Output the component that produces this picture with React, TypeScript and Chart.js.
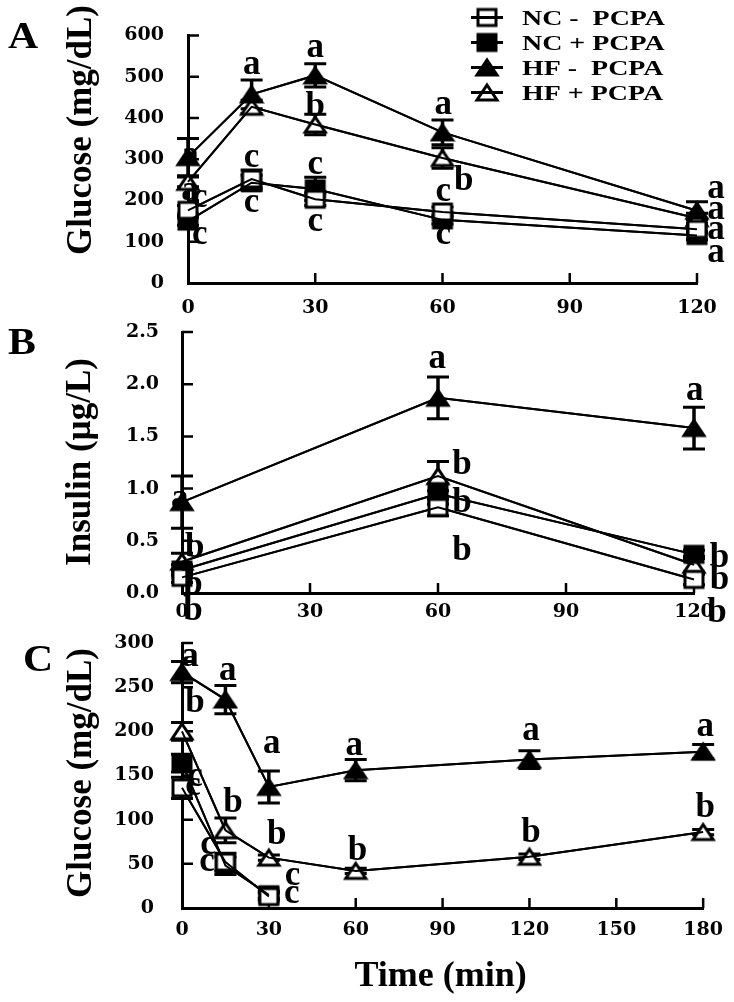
import React, { useEffect, useRef } from 'react';
import { Chart, registerables } from 'chart.js';

Chart.register(...registerables);

const W = 734;
const H = 1002;

// ---- series meta ----
const seriesLabels = ['NC -  PCPA', 'NC + PCPA', 'HF -  PCPA', 'HF + PCPA'];
const seriesShapes = ['square', 'square', 'triangle', 'triangle'];
const seriesFilled = [false, true, true, false];

// ---- Panel A : glucose (mg/dL) ----
const timeA = [0, 15, 30, 60, 120];
const glucoseA_NCminus = [176, 252, 203, 172, 130];
const glucoseA_NCplus = [150, 243, 228, 153, 115];
const glucoseA_HFminus = [305, 457, 503, 365, 175];
const glucoseA_HFplus = [245, 427, 384, 303, 157];
const errA_NCminus = [12, 22, 15, 12, 10];
const errA_NCplus = [10, 18, 28, 10, 10];
const errA_HFminus = [45, 35, 28, 30, 22];
const errA_HFplus = [12, 16, 25, 25, 12];
const xTicksA = [0, 30, 60, 90, 120];
const yTicksA = [0, 100, 200, 300, 400, 500, 600];
const lettersA: [number, number, string][] = [
  [0.5, 307, 'a'], [0.5, 222, 'a'], [2.8, 203, 'c'], [2.8, 115, 'c'],
  [15, 526, 'a'], [15, 300, 'c'], [15, 192, 'c'],
  [30, 568, 'a'], [30, 434, 'b'], [30, 284, 'c'], [30, 145, 'c'],
  [60.2, 429, 'a'], [65, 254, 'b'], [60.2, 219, 'c'], [60.2, 115, 'c'],
  [124.5, 226, 'a'], [124.5, 175, 'a'], [124.5, 127, 'a'], [124.5, 72, 'a'],
];

// ---- Panel B : insulin (µg/L) ----
const timeB = [0, 60, 120];
const insulinB_NCminus = [0.15, 0.82, 0.13];
const insulinB_NCplus = [0.22, 0.95, 0.37];
const insulinB_HFminus = [0.87, 1.87, 1.58];
const insulinB_HFplus = [0.3, 1.12, 0.27];
const errB_NCminus = [0.05, 0.08, 0.05];
const errB_NCplus = [0.05, 0.1, 0.04];
const errB_HFminus = [0.25, 0.2, 0.2];
const errB_HFplus = [0.08, 0.14, 0.08];
const xTicksB = [0, 30, 60, 90, 120];
const yTicksB = [0, 0.5, 1, 1.5, 2, 2.5];
const yTickLabelsB = ['0.0', '0.5', '1.0', '1.5', '2.0', '2.5'];
const lettersB: [number, number, string][] = [
  [-0.5, 0.89, 'a'], [3.0, 0.46, 'b'], [2.6, 0.105, 'b'], [2.6, -0.14, 'b'],
  [59.8, 2.23, 'a'], [65.6, 1.25, 'b'], [65.6, 0.89, 'b'], [65.6, 0.43, 'b'],
  [120.2, 1.93, 'a'], [126, 0.36, 'b'], [126, 0.15, 'b'], [125.4, -0.16, 'b'],
];

// ---- Panel C : glucose (mg/dL), insulin tolerance ----
const timeC = [0, 15, 30, 60, 120, 180];
const glucoseC_NCminus = [136, 52, 13, null, null, null];
const glucoseC_NCplus = [164, 48, 15, null, null, null];
const glucoseC_HFminus = [267, 236, 137, 156, 168, 177];
const glucoseC_HFplus = [200, 88, 57, 42, 58, 86];
const errC_NCminus = [12, 10, 4, null, null, null];
const errC_NCplus = [10, 10, 4, null, null, null];
const errC_HFminus = [12, 16, 18, 12, 10, 8];
const errC_HFplus = [10, 14, 3, 3, 3, 3];
const xTicksC = [0, 30, 60, 90, 120, 150, 180];
const yTicksC = [0, 50, 100, 150, 200, 250, 300];
const lettersC: [number, number, string][] = [
  [2.75, 283, 'a'], [4.5, 235, 'b'], [4.5, 147, 'c'], [3.8, 137, 'c'],
  [15.8, 267, 'a'], [17.6, 122, 'b'], [9, 71, 'c'], [8.6, 51, 'c'],
  [31, 185, 'a'], [32.7, 86, 'b'], [38.2, 35, 'c'], [37.9, 15, 'c'],
  [59.5, 182, 'a'], [60.6, 68, 'b'],
  [120.5, 199, 'a'], [120.5, 88, 'b'],
  [180.7, 204, 'a'], [180.7, 117, 'b'],
];

const TICK_FONT = { family: '"DejaVu Serif"', weight: 'bold' as const, size: 19 };
const SERIF = '"Liberation Serif", "Times New Roman", serif';

function makeMarker(shape: string, filled: boolean, w: number, h: number, lw: number) {
  const pad = Math.ceil(lw);
  const c = document.createElement('canvas');
  c.width = w + pad * 2;
  c.height = h + pad * 2;
  const g = c.getContext('2d')!;
  g.beginPath();
  if (shape === 'square') {
    g.rect(pad, pad, w, h);
  } else {
    g.moveTo(pad + w / 2, pad);
    g.lineTo(pad + w, pad + h);
    g.lineTo(pad, pad + h);
    g.closePath();
  }
  g.fillStyle = filled ? '#000' : '#fff';
  g.fill();
  g.lineWidth = lw;
  g.lineJoin = 'miter';
  g.strokeStyle = '#000';
  g.stroke();
  return c;
}

type Panel = {
  times: number[];
  values: (number | null)[][];
  errors: (number | null)[][];
  xTicks: number[];
  yTicks: number[];
  yTickLabels?: string[];
  letters: [number, number, string][];
  area: { left: number; right: number; top: number; bottom: number };
  xLabelPad: number;
  yLabelPad: number;
  yTitle: string;
  yTitlePos: [number, number];
  panelLabel: string;
  panelPos: [number, number];
  legend?: boolean;
  xTitle?: string;
};

function drawText(ctx: CanvasRenderingContext2D, text: string, x: number, y: number, font: string, opts: any = {}) {
  ctx.save();
  ctx.translate(x, y);
  if (opts.rotate) ctx.rotate(opts.rotate);
  if (opts.sx) ctx.scale(opts.sx, 1);
  ctx.font = font;
  ctx.fillStyle = '#000';
  ctx.textAlign = opts.align || 'center';
  ctx.textBaseline = opts.baseline || 'middle';
  ctx.fillText(text, 0, 0);
  ctx.restore();
}

function decorPlugin(p: Panel, markers: HTMLCanvasElement[]) {
  return {
    id: 'decor',
    beforeDatasetsDraw(chart: any) {
      const { ctx, chartArea: a } = chart;
      const x = chart.scales.x;
      const y = chart.scales.y;
      ctx.save();
      ctx.strokeStyle = '#000';
      ctx.lineWidth = 2.5;
      ctx.beginPath();
      x.ticks.forEach((t: any) => {
        if (t.value === x.min) return;
        const px = x.getPixelForValue(t.value);
        ctx.moveTo(px, a.bottom);
        ctx.lineTo(px, a.bottom - 10);
      });
      y.ticks.forEach((t: any) => {
        if (t.value === y.min) return;
        const py = y.getPixelForValue(t.value);
        ctx.moveTo(a.left, py);
        ctx.lineTo(a.left + 11, py);
      });
      ctx.stroke();
      // error bars (under markers)
      chart.data.datasets.forEach((ds: any) => {
        ds.data.forEach((d: any, j: number) => {
          const e = ds.errors[j];
          if (d.y == null || e == null) return;
          const px = x.getPixelForValue(d.x);
          const top = y.getPixelForValue(d.y + e);
          const bot = y.getPixelForValue(d.y - e);
          ctx.beginPath();
          ctx.lineWidth = 3.5;
          ctx.moveTo(px, top);
          ctx.lineTo(px, bot);
          ctx.stroke();
          ctx.beginPath();
          ctx.lineWidth = 3;
          ctx.moveTo(px - 11, top);
          ctx.lineTo(px + 11, top);
          ctx.moveTo(px - 11, bot);
          ctx.lineTo(px + 11, bot);
          ctx.stroke();
        });
      });
      ctx.restore();
    },
    afterDatasetsDraw(chart: any) {
      const { ctx } = chart;
      const x = chart.scales.x;
      const y = chart.scales.y;
      ctx.save();
      // connecting lines over the symbols
      ctx.strokeStyle = '#000';
      ctx.lineWidth = 2;
      chart.data.datasets.forEach((ds: any, i: number) => {
        const meta = chart.getDatasetMeta(i);
        ctx.beginPath();
        let started = false;
        meta.data.forEach((pt: any, j: number) => {
          if (ds.data[j].y == null) {
            started = false;
            return;
          }
          if (!started) {
            ctx.moveTo(pt.x, pt.y);
            started = true;
          } else ctx.lineTo(pt.x, pt.y);
        });
        ctx.stroke();
      });
      // significance letters
      const fs = 35;
      p.letters.forEach(([lx, ly, t]) => {
        const px = x.getPixelForValue(lx);
        const py = y.getPixelForValue(ly);
        drawText(ctx, t, px, py + (t === 'b' ? 0.34 : 0.235) * fs, `bold ${fs}px ${SERIF}`, { baseline: 'alphabetic' });
      });
      ctx.restore();
    },
    afterDraw(chart: any) {
      const { ctx, chartArea: a } = chart;
      drawText(ctx, p.yTitle, p.yTitlePos[0], p.yTitlePos[1], `bold 35px ${SERIF}`, { rotate: -Math.PI / 2 });
      drawText(ctx, p.panelLabel, p.panelPos[0], p.panelPos[1], `bold 38px ${SERIF}`, { baseline: 'alphabetic', sx: 1.1 });
      if (p.xTitle) {
        drawText(ctx, p.xTitle, (a.left + a.right) / 2 - 2, 977, `bold 36px ${SERIF}`);
      }
      if (p.legend) {
        const symX = a.right - 210;
        const txtX = a.right - 175;
        chart.data.datasets.forEach((ds: any, i: number) => {
          const ry = 17.5 + i * 25;
          const m = markers[i];
          ctx.save();
          ctx.drawImage(m, symX - m.width / 2, ry - m.height / 2);
          ctx.strokeStyle = '#000';
          ctx.lineWidth = 3;
          ctx.beginPath();
          ctx.moveTo(symX - 16, ry);
          ctx.lineTo(symX + 16, ry);
          ctx.stroke();
          ctx.restore();
          drawText(ctx, ds.label, txtX, ry + 7.5, `bold 22px ${SERIF}`, { align: 'left', baseline: 'alphabetic', sx: 1.27 });
        });
      }
    },
  };
}

function buildChart(canvas: HTMLCanvasElement, p: Panel) {
  const markers = seriesShapes.map((s, i) =>
    s === 'square' ? makeMarker(s, seriesFilled[i], 18, 16, 3) : makeMarker(s, seriesFilled[i], 20, 15, 3)
  );
  const datasets = p.values.map((vals, i) => ({
    label: seriesLabels[i],
    data: p.times.map((t, j) => ({ x: t, y: vals[j] })),
    errors: p.errors[i],
    borderColor: '#000',
    backgroundColor: '#000',
    borderWidth: 2,
    pointStyle: markers[i],
    pointRadius: 9,
    pointHoverRadius: 9,
    clip: false,
    tension: 0,
    fill: false,
  }));
  const yW = 100;
  const xH = 40;
  return new Chart(canvas, {
    type: 'line',
    data: { datasets } as any,
    options: {
      responsive: false,
      animation: false,
      devicePixelRatio: 1,
      events: [],
      layout: {
        padding: {
          left: p.area.left - yW,
          right: W - p.area.right,
          top: p.area.top,
          bottom: H - p.area.bottom - xH,
        },
      },
      plugins: { legend: { display: false }, tooltip: { enabled: false } },
      scales: {
        x: {
          type: 'linear',
          min: p.xTicks[0],
          max: p.xTicks[p.xTicks.length - 1],
          afterBuildTicks: (s: any) => {
            s.ticks = p.xTicks.map((v) => ({ value: v }));
          },
          afterFit: (s: any) => {
            s.height = xH;
          },
          grid: { drawOnChartArea: false, drawTicks: false },
          border: { display: true, width: 3, color: '#000' },
          ticks: {
            padding: p.xLabelPad,
            color: '#000',
            font: TICK_FONT,
            maxRotation: 0,
            autoSkip: false,
            callback: (v: any) => String(v),
          },
        },
        y: {
          type: 'linear',
          min: p.yTicks[0],
          max: p.yTicks[p.yTicks.length - 1],
          afterBuildTicks: (s: any) => {
            s.ticks = p.yTicks.map((v) => ({ value: v }));
          },
          afterFit: (s: any) => {
            s.width = yW;
          },
          grid: { drawOnChartArea: false, drawTicks: false },
          border: { display: true, width: 3, color: '#000' },
          ticks: {
            padding: p.yLabelPad,
            color: '#000',
            font: TICK_FONT,
            autoSkip: false,
            callback: (v: any, i: number) => (p.yTickLabels ? p.yTickLabels[i] : String(v)),
          },
        },
      },
    } as any,
    plugins: [decorPlugin(p, markers) as any],
  });
}

const panelA: Panel = {
  times: timeA,
  values: [glucoseA_NCminus, glucoseA_NCplus, glucoseA_HFminus, glucoseA_HFplus],
  errors: [errA_NCminus, errA_NCplus, errA_HFminus, errA_HFplus],
  xTicks: xTicksA,
  yTicks: yTicksA,
  letters: lettersA,
  area: { left: 188, right: 697, top: 24, bottom: 283 },
  xLabelPad: 14,
  yLabelPad: 24,
  yTitle: 'Glucose (mg/dL)',
  yTitlePos: [82, 130],
  panelLabel: 'A',
  panelPos: [23, 48],
  legend: true,
};

const panelB: Panel = {
  times: timeB,
  values: [insulinB_NCminus, insulinB_NCplus, insulinB_HFminus, insulinB_HFplus],
  errors: [errB_NCminus, errB_NCplus, errB_HFminus, errB_HFplus],
  xTicks: xTicksB,
  yTicks: yTicksB,
  yTickLabels: yTickLabelsB,
  letters: lettersB,
  area: { left: 182, right: 694, top: 332, bottom: 593 },
  xLabelPad: 8,
  yLabelPad: 23,
  yTitle: 'Insulin (µg/L)',
  yTitlePos: [81, 462],
  panelLabel: 'B',
  panelPos: [22, 354],
};

const panelC: Panel = {
  times: timeC,
  values: [glucoseC_NCminus, glucoseC_NCplus, glucoseC_HFminus, glucoseC_HFplus],
  errors: [errC_NCminus, errC_NCplus, errC_HFminus, errC_HFplus],
  xTicks: xTicksC,
  yTicks: yTicksC,
  letters: lettersC,
  area: { left: 182, right: 705, top: 643, bottom: 908 },
  xLabelPad: 11,
  yLabelPad: 28,
  yTitle: 'Glucose (mg/dL)',
  yTitlePos: [82, 773],
  panelLabel: 'C',
  panelPos: [38, 671],
  xTitle: 'Time (min)',
};

export default function App() {
  const refA = useRef<HTMLCanvasElement>(null);
  const refB = useRef<HTMLCanvasElement>(null);
  const refC = useRef<HTMLCanvasElement>(null);

  useEffect(() => {
    const charts = [
      buildChart(refA.current!, panelA),
      buildChart(refB.current!, panelB),
      buildChart(refC.current!, panelC),
    ];
    return () => charts.forEach((c) => c.destroy());
  }, []);

  const cs: React.CSSProperties = { position: 'absolute', left: 0, top: 0, width: W, height: H, display: 'block' };
  return (
    <div style={{ position: 'fixed', left: 0, top: 0, width: W, height: H, background: '#fff', overflow: 'hidden' }}>
      <canvas ref={refA} width={W} height={H} style={cs} />
      <canvas ref={refB} width={W} height={H} style={cs} />
      <canvas ref={refC} width={W} height={H} style={cs} />
    </div>
  );
}
